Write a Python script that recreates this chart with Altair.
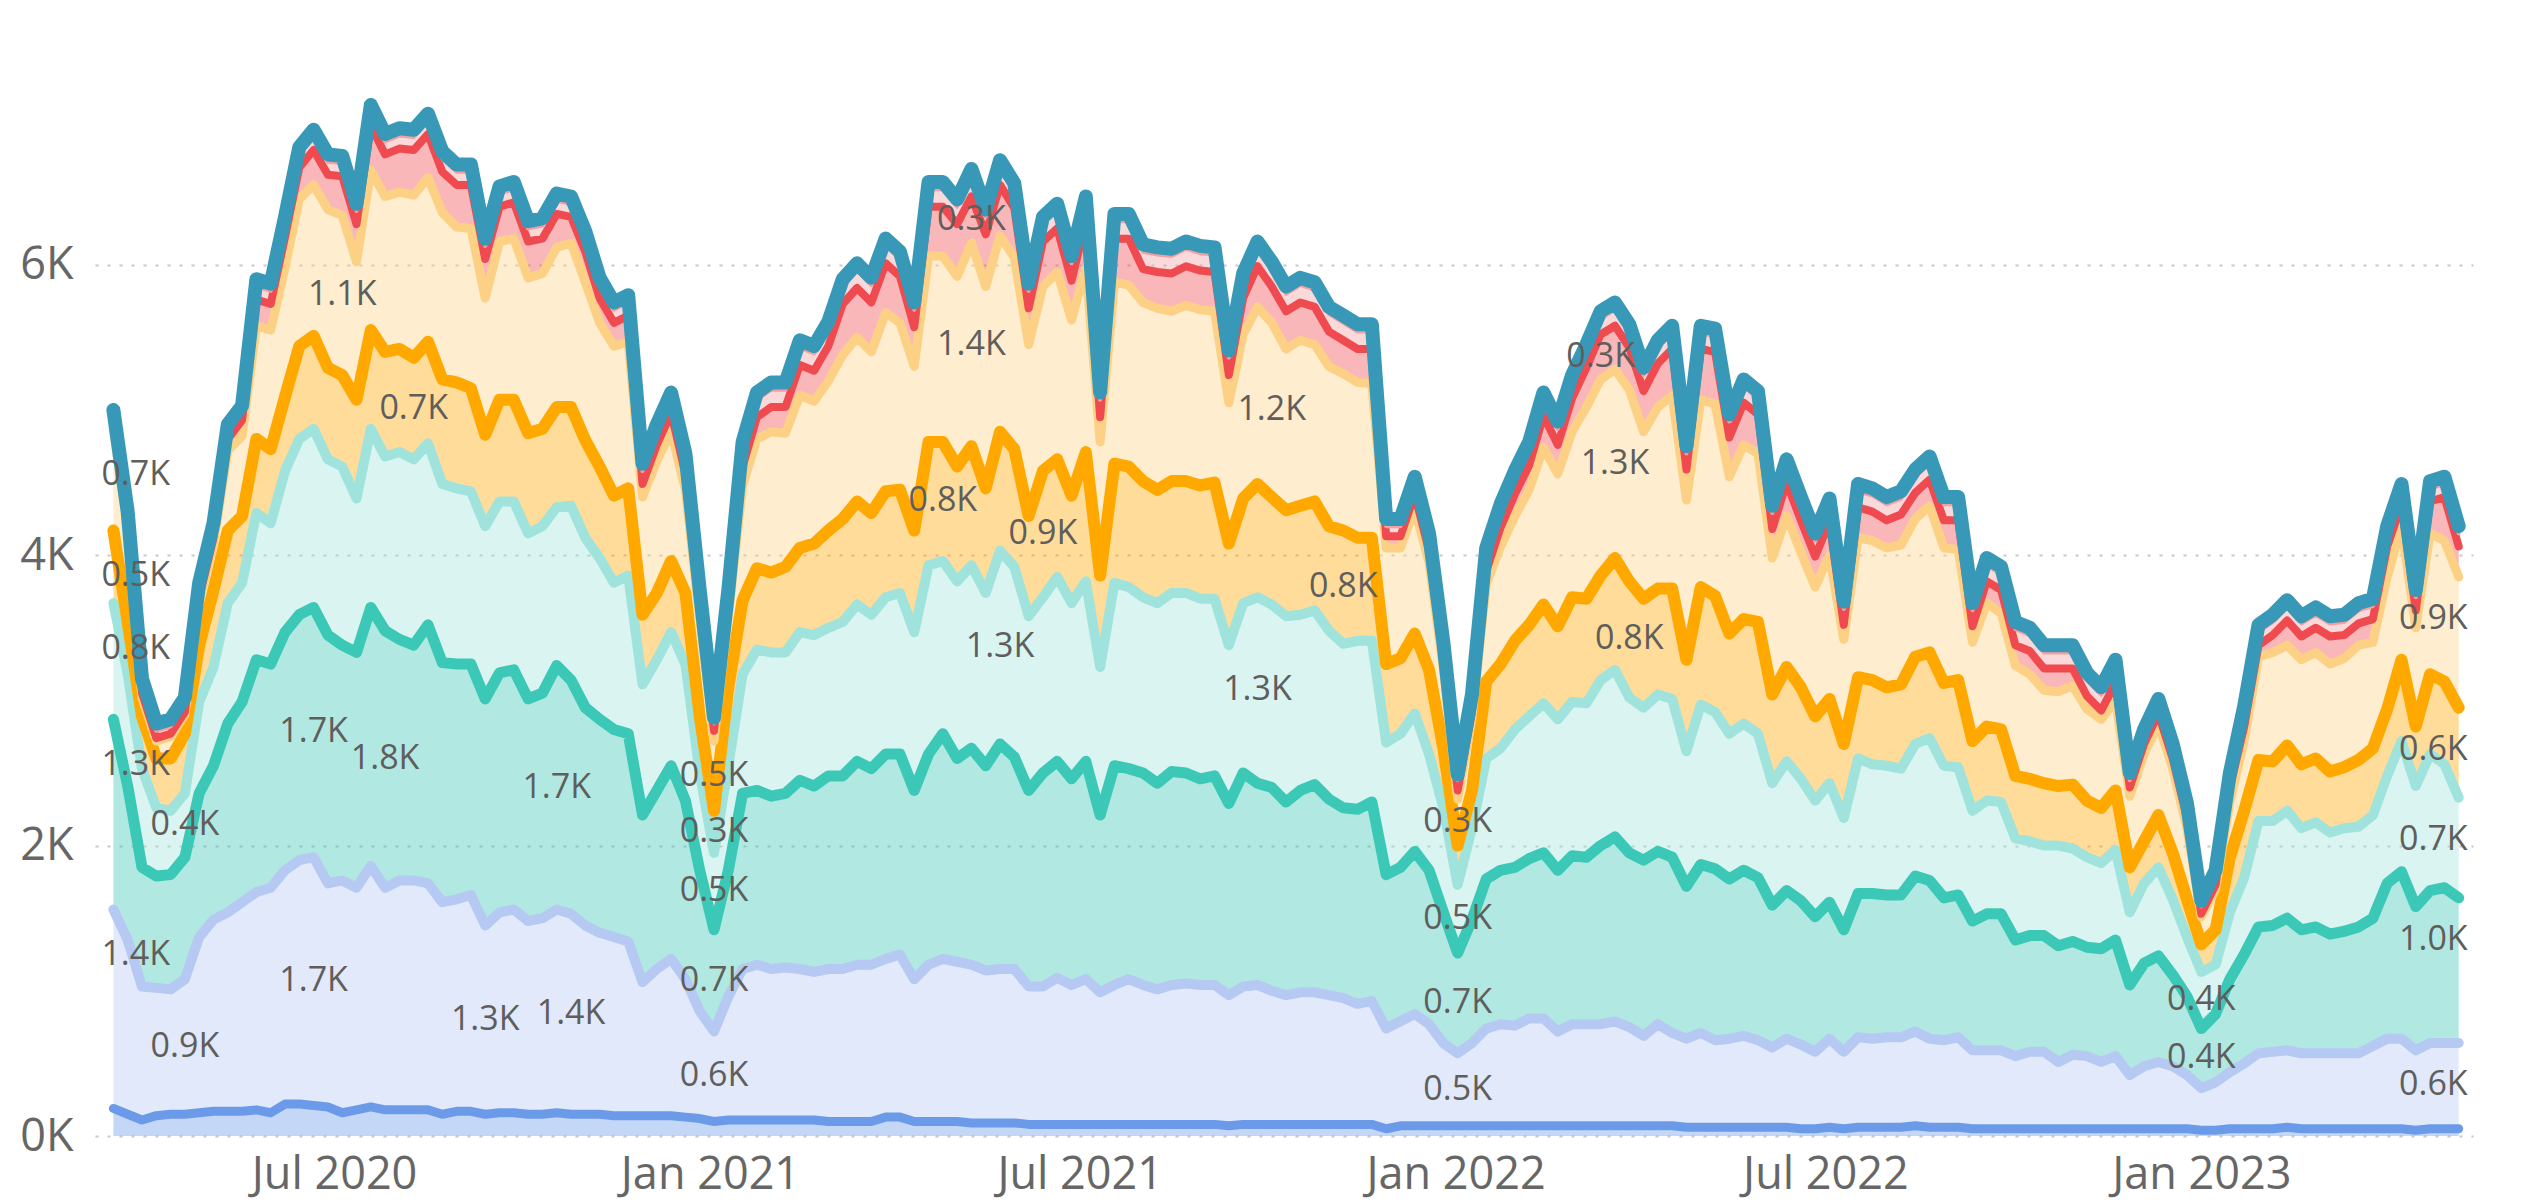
import altair as alt
import pandas as pd

# ---- data (values in thousands), weekly points ----
weeks = pd.date_range("2020-03-15", periods=165, freq="7D")

series_names = ["Series 1", "Series 2", "Series 3", "Series 4", "Series 5",
                "Series 6", "Series 7", "Series 8", "Series 9"]

s1 = [0.19,0.15,0.11,0.14,0.15,0.15,0.16,0.17,0.17,0.17,
      0.18,0.16,0.22,0.22,0.21,0.20,0.16,0.18,0.20,0.18,
      0.18,0.18,0.18,0.15,0.17,0.17,0.15,0.16,0.16,0.15,
      0.15,0.16,0.15,0.15,0.15,0.14,0.14,0.14,0.14,0.14,
      0.13,0.12,0.10,0.11,0.11,0.11,0.11,0.11,0.11,0.11,
      0.10,0.10,0.10,0.10,0.13,0.13,0.10,0.10,0.10,0.10,
      0.09,0.09,0.09,0.09,0.08,0.08,0.08,0.08,0.08,0.08,
      0.08,0.08,0.08,0.08,0.08,0.08,0.08,0.08,0.07,0.08,
      0.08,0.08,0.08,0.08,0.08,0.08,0.08,0.08,0.08,0.05,
      0.07,0.07,0.07,0.07,0.07,0.07,0.07,0.07,0.07,0.07,
      0.07,0.07,0.07,0.07,0.07,0.07,0.07,0.07,0.07,0.07,
      0.06,0.06,0.06,0.06,0.06,0.06,0.06,0.06,0.05,0.05,
      0.06,0.05,0.06,0.06,0.06,0.06,0.07,0.06,0.06,0.06,
      0.05,0.05,0.05,0.05,0.05,0.05,0.05,0.05,0.05,0.05,
      0.05,0.05,0.05,0.05,0.05,0.05,0.04,0.04,0.05,0.05,
      0.05,0.05,0.06,0.05,0.05,0.05,0.05,0.05,0.05,0.05,
      0.05,0.04,0.05,0.05,0.05]

s2 = [1.37,1.20,0.92,0.88,0.86,0.93,1.21,1.32,1.37,1.44,
      1.50,1.55,1.61,1.68,1.71,1.54,1.60,1.53,1.66,1.53,
      1.58,1.58,1.56,1.46,1.46,1.49,1.30,1.38,1.40,1.33,
      1.35,1.40,1.38,1.30,1.25,1.23,1.20,0.92,1.01,1.08,
      0.95,0.74,0.62,0.85,1.04,1.07,1.04,1.05,1.04,1.02,
      1.05,1.05,1.08,1.08,1.09,1.12,0.98,1.08,1.12,1.10,
      1.09,1.05,1.06,1.06,0.95,0.95,1.01,0.96,1.00,0.91,
      0.96,1.00,0.96,0.93,0.96,0.97,0.96,0.96,0.90,0.95,
      0.96,0.92,0.89,0.91,0.91,0.89,0.87,0.83,0.85,0.69,
      0.72,0.77,0.70,0.57,0.50,0.57,0.67,0.70,0.69,0.74,
      0.74,0.65,0.70,0.70,0.70,0.72,0.68,0.62,0.70,0.64,
      0.61,0.65,0.60,0.61,0.63,0.60,0.55,0.61,0.58,0.53,
      0.61,0.53,0.62,0.61,0.62,0.62,0.65,0.61,0.60,0.62,
      0.54,0.54,0.54,0.50,0.53,0.53,0.46,0.51,0.50,0.46,
      0.50,0.37,0.43,0.46,0.43,0.37,0.29,0.33,0.39,0.45,
      0.52,0.53,0.53,0.52,0.52,0.52,0.52,0.52,0.57,0.62,
      0.62,0.55,0.59,0.59,0.59]

s3 = [1.31,1.06,0.82,0.77,0.79,0.84,0.99,1.06,1.30,1.38,
      1.60,1.54,1.64,1.69,1.72,1.71,1.62,1.62,1.78,1.77,
      1.66,1.62,1.78,1.65,1.62,1.59,1.56,1.65,1.65,1.53,
      1.55,1.68,1.61,1.50,1.47,1.43,1.43,1.15,1.23,1.33,
      1.23,0.97,0.70,0.87,1.21,1.20,1.19,1.20,1.30,1.28,
      1.33,1.33,1.40,1.35,1.41,1.38,1.30,1.45,1.55,1.40,
      1.49,1.41,1.55,1.46,1.35,1.47,1.49,1.42,1.50,1.22,
      1.51,1.45,1.46,1.42,1.47,1.45,1.42,1.44,1.32,1.47,
      1.39,1.40,1.33,1.39,1.43,1.35,1.31,1.34,1.37,1.06,
      1.06,1.12,1.06,0.90,0.69,0.85,1.03,1.06,1.09,1.10,
      1.14,1.11,1.16,1.15,1.23,1.27,1.20,1.21,1.19,1.21,
      1.05,1.16,1.18,1.10,1.14,1.12,0.98,1.02,0.99,0.93,
      0.94,0.84,0.99,1.00,0.98,0.98,1.07,1.09,0.98,0.98,
      0.89,0.94,0.94,0.80,0.80,0.80,0.80,0.78,0.75,0.78,
      0.80,0.62,0.71,0.73,0.63,0.54,0.41,0.47,0.64,0.75,
      0.87,0.87,0.91,0.85,0.87,0.82,0.84,0.87,0.88,1.07,
      1.15,0.99,1.05,1.07,1.00]

s4 = [0.80,0.77,0.68,0.47,0.44,0.44,0.63,0.68,0.83,0.82,
      1.01,0.97,1.11,1.21,1.23,1.21,1.23,1.06,1.23,1.20,
      1.29,1.28,1.25,1.23,1.21,1.19,1.19,1.18,1.16,1.14,
      1.15,1.09,1.20,1.17,1.11,1.01,1.09,0.90,0.90,0.92,
      0.94,0.67,0.53,0.72,0.82,0.97,0.99,0.97,1.02,1.04,
      1.02,1.06,1.08,1.06,1.08,1.11,1.09,1.30,1.19,1.22,
      1.26,1.19,1.33,1.31,1.20,1.21,1.27,1.21,1.24,1.02,
      1.26,1.25,1.21,1.24,1.23,1.24,1.24,1.22,1.09,1.17,
      1.28,1.26,1.28,1.21,1.20,1.16,1.13,1.16,1.11,0.91,
      0.92,0.95,0.80,0.72,0.47,0.63,0.83,0.84,0.95,0.98,
      1.03,1.04,1.06,1.06,1.14,1.15,1.07,1.05,1.08,1.09,
      0.93,1.10,1.08,1.00,1.01,0.99,0.84,0.89,0.84,0.80,
      0.82,0.77,0.93,0.89,0.89,0.87,0.91,0.98,0.91,0.88,
      0.76,0.78,0.77,0.70,0.65,0.62,0.69,0.64,0.62,0.59,
      0.62,0.50,0.55,0.61,0.52,0.41,0.39,0.34,0.46,0.53,
      0.73,0.72,0.74,0.70,0.72,0.70,0.71,0.69,0.71,0.74,
      0.90,0.83,0.94,0.85,0.69]

s5 = [0.50,0.36,0.36,0.34,0.36,0.41,0.39,0.53,0.50,0.46,
      0.51,0.51,0.51,0.64,0.64,0.63,0.63,0.68,0.68,0.72,
      0.71,0.70,0.70,0.72,0.73,0.71,0.63,0.70,0.70,0.69,
      0.67,0.69,0.68,0.67,0.63,0.60,0.60,0.48,0.46,0.49,
      0.49,0.39,0.29,0.54,0.51,0.56,0.55,0.59,0.58,0.63,
      0.67,0.71,0.71,0.70,0.73,0.71,0.70,0.85,0.82,0.79,
      0.82,0.72,0.82,0.81,0.69,0.87,0.81,0.74,0.89,0.63,
      0.82,0.83,0.80,0.78,0.77,0.77,0.78,0.80,0.70,0.72,
      0.78,0.74,0.73,0.75,0.75,0.72,0.78,0.71,0.71,0.54,
      0.52,0.55,0.58,0.41,0.27,0.26,0.53,0.58,0.61,0.63,
      0.68,0.64,0.72,0.72,0.72,0.77,0.80,0.75,0.73,0.76,
      0.63,0.81,0.80,0.69,0.72,0.77,0.61,0.65,0.63,0.58,
      0.58,0.51,0.56,0.58,0.54,0.58,0.60,0.59,0.57,0.60,
      0.48,0.51,0.50,0.43,0.43,0.43,0.41,0.44,0.39,0.38,
      0.41,0.31,0.29,0.36,0.32,0.26,0.19,0.24,0.38,0.46,
      0.42,0.41,0.45,0.44,0.44,0.42,0.42,0.46,0.46,0.46,
      0.56,0.41,0.55,0.57,0.62]

s6 = [0.70,0.64,0.13,0.12,0.15,0.13,0.30,0.32,0.55,0.55,
      0.78,0.82,0.89,1.01,1.04,1.09,1.10,0.95,1.10,1.07,
      1.08,1.12,1.13,1.15,1.07,1.10,0.94,1.09,1.11,1.07,
      1.07,1.10,1.13,1.09,0.99,1.03,1.01,0.81,0.91,0.89,
      0.71,0.68,0.48,0.49,0.79,0.89,0.97,0.92,1.05,0.98,
      1.03,1.13,1.13,1.11,1.23,1.15,1.13,1.28,1.28,1.31,
      1.40,1.39,1.35,1.32,1.18,1.27,1.29,1.21,1.27,0.92,
      1.25,1.25,1.23,1.25,1.17,1.21,1.21,1.18,0.97,1.13,
      1.22,1.20,1.11,1.14,1.08,1.10,1.08,1.07,1.06,0.80,
      0.76,0.86,0.74,0.55,0.32,0.50,0.67,0.81,0.86,0.93,
      1.08,1.05,1.14,1.32,1.35,1.30,1.32,1.15,1.25,1.33,
      1.10,1.29,1.32,1.08,1.20,1.16,0.94,1.04,0.93,0.89,
      0.99,0.72,0.96,0.96,0.96,0.96,0.95,1.01,0.93,0.90,
      0.68,0.85,0.80,0.76,0.72,0.64,0.65,0.68,0.63,0.61,
      0.62,0.49,0.60,0.63,0.58,0.49,0.19,0.28,0.38,0.48,
      0.71,0.75,0.69,0.72,0.73,0.74,0.75,0.79,0.73,0.91,
      0.92,0.68,0.97,0.97,0.90]

s7 = [0.03,0.02,0.03,0.02,0.02,0.02,0.03,0.04,0.08,0.11,
      0.18,0.18,0.21,0.22,0.24,0.24,0.27,0.26,0.31,0.29,
      0.30,0.31,0.30,0.28,0.29,0.30,0.27,0.24,0.25,0.25,
      0.24,0.23,0.18,0.21,0.17,0.16,0.18,0.09,0.11,0.13,
      0.11,0.05,0.07,0.08,0.13,0.15,0.17,0.18,0.21,0.21,
      0.24,0.35,0.34,0.34,0.34,0.32,0.27,0.34,0.34,0.36,
      0.32,0.36,0.35,0.34,0.25,0.31,0.30,0.27,0.32,0.17,
      0.30,0.32,0.23,0.25,0.26,0.27,0.27,0.27,0.19,0.25,
      0.28,0.25,0.26,0.26,0.26,0.24,0.23,0.23,0.24,0.08,
      0.08,0.10,0.08,0.06,0.06,0.04,0.09,0.13,0.15,0.17,
      0.22,0.20,0.23,0.27,0.31,0.30,0.29,0.28,0.30,0.32,
      0.21,0.35,0.36,0.27,0.29,0.27,0.20,0.23,0.22,0.21,
      0.23,0.10,0.21,0.20,0.19,0.21,0.18,0.18,0.19,0.20,
      0.11,0.15,0.16,0.14,0.16,0.15,0.16,0.12,0.09,0.06,
      0.12,0.06,0.07,0.07,0.07,0.07,0.02,0.03,0.10,0.10,
      0.08,0.12,0.17,0.16,0.17,0.19,0.16,0.15,0.16,0.21,
      0.15,0.12,0.22,0.30,0.21]

s8 = [0.05,0.05,0.05,0.05,0.05,0.05,0.05,0.05,0.05,0.05,
      0.09,0.09,0.09,0.09,0.09,0.09,0.09,0.09,0.09,0.09,
      0.09,0.09,0.09,0.09,0.09,0.09,0.09,0.09,0.09,0.09,
      0.09,0.09,0.09,0.09,0.09,0.09,0.09,0.09,0.09,0.09,
      0.09,0.09,0.05,0.05,0.12,0.12,0.12,0.12,0.12,0.12,
      0.12,0.12,0.12,0.12,0.12,0.12,0.12,0.12,0.12,0.12,
      0.14,0.12,0.12,0.12,0.12,0.12,0.12,0.12,0.12,0.12,
      0.12,0.12,0.12,0.12,0.12,0.12,0.12,0.12,0.12,0.12,
      0.12,0.12,0.12,0.12,0.12,0.12,0.12,0.12,0.12,0.07,
      0.07,0.07,0.07,0.07,0.07,0.07,0.11,0.11,0.11,0.11,
      0.11,0.11,0.11,0.11,0.11,0.11,0.11,0.11,0.11,0.11,
      0.11,0.11,0.11,0.11,0.11,0.11,0.11,0.11,0.11,0.11,
      0.11,0.11,0.11,0.11,0.11,0.11,0.11,0.11,0.11,0.11,
      0.11,0.11,0.11,0.11,0.11,0.11,0.11,0.11,0.11,0.11,
      0.11,0.05,0.05,0.05,0.05,0.05,0.05,0.05,0.05,0.09,
      0.09,0.09,0.09,0.09,0.09,0.09,0.09,0.09,0.09,0.09,
      0.09,0.09,0.09,0.09,0.09]

s9 = [0.05,0.05,0.05,0.05,0.05,0.05,0.05,0.05,0.05,0.05,
      0.05,0.05,0.05,0.05,0.05,0.05,0.05,0.05,0.05,0.05,
      0.05,0.05,0.05,0.05,0.05,0.05,0.05,0.05,0.05,0.05,
      0.05,0.05,0.05,0.05,0.05,0.05,0.05,0.05,0.05,0.05,
      0.05,0.05,0.04,0.05,0.05,0.05,0.05,0.05,0.05,0.05,
      0.05,0.05,0.05,0.05,0.05,0.05,0.05,0.05,0.05,0.05,
      0.05,0.05,0.05,0.05,0.05,0.05,0.05,0.05,0.05,0.05,
      0.05,0.05,0.05,0.05,0.05,0.05,0.05,0.05,0.05,0.05,
      0.05,0.05,0.05,0.05,0.05,0.05,0.05,0.05,0.05,0.05,
      0.05,0.05,0.05,0.05,0.04,0.05,0.05,0.05,0.05,0.05,
      0.05,0.05,0.05,0.05,0.05,0.05,0.05,0.05,0.05,0.05,
      0.05,0.05,0.05,0.05,0.05,0.05,0.05,0.05,0.05,0.05,
      0.05,0.05,0.05,0.05,0.05,0.05,0.05,0.05,0.05,0.05,
      0.05,0.05,0.05,0.05,0.05,0.05,0.05,0.05,0.05,0.05,
      0.05,0.05,0.05,0.05,0.05,0.05,0.04,0.05,0.05,0.05,
      0.05,0.05,0.05,0.05,0.05,0.05,0.05,0.05,0.05,0.05,
      0.05,0.05,0.05,0.05,0.05]

series_values = [s1, s2, s3, s4, s5, s6, s7, s8, s9]

# data labels: week index, series number (1 = bottom), text
label_weeks = [0, 0, 0, 0, 0, 5, 5, 16, 21, 14, 19, 14, 26, 31, 32,
               42, 42, 42, 42, 42, 60, 60, 58, 65, 62, 81, 80, 86,
               94, 94, 94, 94, 104, 105, 106, 146, 146,
               164, 164, 164, 164, 164]
label_series = [6, 5, 4, 3, 2, 4, 2, 6, 5, 3, 3, 2, 2, 3, 2,
                6, 5, 4, 3, 2, 7, 6, 5, 5, 4, 6, 4, 5,
                6, 4, 3, 2, 7, 6, 5, 4, 3,
                6, 5, 4, 3, 2]
label_texts = ["0.7K", "0.5K", "0.8K", "1.3K", "1.4K", "0.4K", "0.9K",
               "1.1K", "0.7K", "1.7K", "1.8K", "1.7K", "1.3K", "1.7K", "1.4K",
               "0.5K", "0.3K", "0.5K", "0.7K", "0.6K",
               "0.3K", "1.4K", "0.8K", "0.9K", "1.3K", "1.2K", "1.3K", "0.8K",
               "0.3K", "0.5K", "0.7K", "0.5K", "0.3K", "1.3K", "0.8K",
               "0.4K", "0.4K",
               "0.9K", "0.6K", "0.7K", "1.0K", "0.6K"]

y_ticks = [0, 2, 4, 6]
x_ticks = [alt.DateTime(year=2020, month=7, date=1), alt.DateTime(year=2021, month=1, date=1),
           alt.DateTime(year=2021, month=7, date=1), alt.DateTime(year=2022, month=1, date=1),
           alt.DateTime(year=2022, month=7, date=1), alt.DateTime(year=2023, month=1, date=1)]

# ---- styling ----
line_colors = ["#6b9be8", "#b5c9f3", "#3cc8b6", "#9fe3dc", "#ffa800",
               "#fdd185", "#ef4a4f", "#f2a0a2", "#3799b7"]
line_widths = [9, 10, 11, 10, 12, 9, 8, 4, 14]

# ---- assemble long table ----
records = []
n = len(weeks)
for k, name in enumerate(series_names):
    for i in range(n):
        records.append({"date": weeks[i], "series": name, "k": k, "week": i,
                        "value": series_values[k][i], "label": ""})
for w, s, t in zip(label_weeks, label_series, label_texts):
    records[(s - 1) * n + w]["label"] = t
df = pd.DataFrame(records)

FONT = "Open Sans"
x_enc = alt.X("date:T", title=None,
              scale=alt.Scale(domain=[alt.DateTime(year=2020, month=3, date=6),
                                      alt.DateTime(year=2023, month=5, date=14)]),
              axis=alt.Axis(values=x_ticks, format="%b %Y", domain=False, ticks=False,
                            grid=False, labelFont=FONT, labelFontSize=45,
                            labelColor="#666666", labelPadding=16))
y_scale = alt.Scale(domain=[0, 7.3], nice=False, zero=True)
y_axis = alt.Axis(values=y_ticks, labelExpr="datum.value + 'K'", domain=False, ticks=False,
                  grid=True, gridDash=[3, 9], gridColor="#c8c8c8", gridWidth=2,
                  labelFont=FONT, labelFontSize=45, labelColor="#666666", labelPadding=22)

base = alt.Chart(df).transform_stack(
    stack="value", groupby=["date"], sort=[alt.SortField("k", order="ascending")],
    as_=["y0", "y1"])

areas = base.mark_area(fillOpacity=0.4, interpolate="linear", strokeWidth=0).encode(
    x=x_enc,
    y=alt.Y("y1:Q", title=None, scale=y_scale, axis=y_axis),
    y2="y0:Q",
    color=alt.Color("series:N", scale=alt.Scale(domain=series_names, range=line_colors),
                    legend=None),
)

lines = []
for k, name in enumerate(series_names):
    lines.append(
        base.transform_filter(alt.datum.k == k).mark_line(
            color=line_colors[k], strokeWidth=line_widths[k],
            strokeJoin="round", strokeCap="round", interpolate="linear"
        ).encode(x=x_enc, y=alt.Y("y1:Q", title=None, scale=y_scale, axis=y_axis))
    )

last_week = n - 1
mid_labels = base.transform_filter(
    f"datum.label != '' && datum.week > 0 && datum.week < {last_week}"
).transform_calculate(mid="(datum.y0 + datum.y1) / 2").mark_text(
    font=FONT, fontSize=34, color="#605e5c", baseline="middle", align="center"
).encode(x=x_enc, y=alt.Y("mid:Q", title=None, scale=y_scale, axis=y_axis), text="label:N")

start_labels = base.transform_filter("datum.label != '' && datum.week == 0").mark_text(
    font=FONT, fontSize=34, color="#605e5c", baseline="middle", align="left", dx=-12, dy=46
).encode(x=x_enc, y=alt.Y("y1:Q", title=None, scale=y_scale, axis=y_axis), text="label:N")

end_labels = base.transform_filter(
    f"datum.label != '' && datum.week == {last_week}"
).mark_text(
    font=FONT, fontSize=34, color="#605e5c", baseline="middle", align="right", dx=9, dy=42
).encode(x=x_enc, y=alt.Y("y1:Q", title=None, scale=y_scale, axis=y_axis), text="label:N")

chart = alt.layer(areas, *lines, mid_labels, start_labels, end_labels).properties(
    width=2378, height=1060,
    padding={"left": 87, "top": 68, "right": 50, "bottom": 66},
    autosize=alt.AutoSizeParams(type="none"),
    background="white",
).configure_view(stroke=None)

chart.save("out.html", embed_options={"renderer": "svg", "actions": False})
